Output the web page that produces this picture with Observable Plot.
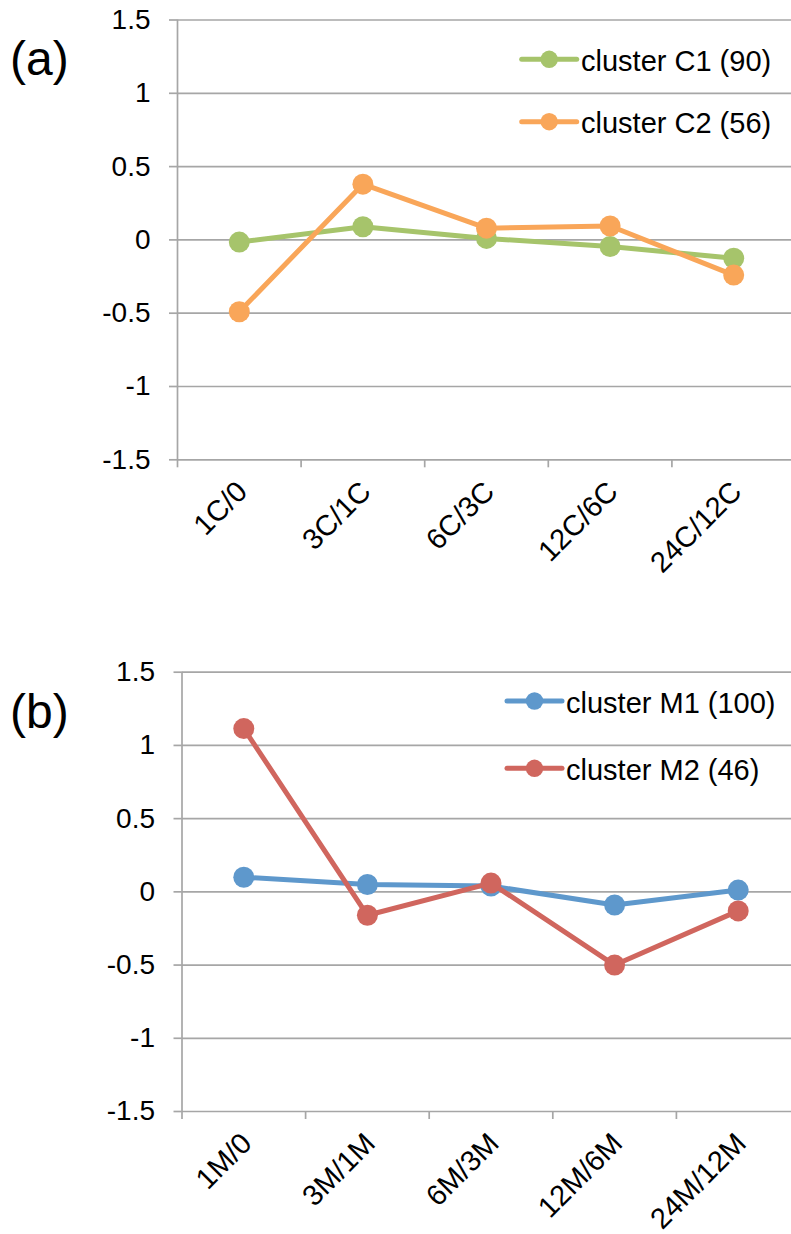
<!DOCTYPE html>
<html>
<head>
<meta charset="utf-8">
<script src="https://cdn.jsdelivr.net/npm/d3@7"></script>
<script src="https://cdn.jsdelivr.net/npm/@observablehq/plot@0.6"></script>
<style>
  body { margin: 0; background: #fff; font-family: "Liberation Sans", Arial, sans-serif; }
  .panel { position: relative; width: 791px; overflow: hidden; }
  .panel svg.plot { display: block; }
  .overlay { position: absolute; left: 0; top: 0; pointer-events: none; }
</style>
</head>
<body>
<div id="a" class="panel"></div>
<div id="b" class="panel"></div>
<script>
// ---- data ----
const catsA = ["1C/0", "3C/1C", "6C/3C", "12C/6C", "24C/12C"];
const catsB = ["1M/0", "3M/1M", "6M/3M", "12M/6M", "24M/12M"];
const c1 = [-0.015, 0.09, 0.01, -0.045, -0.125];
const c2 = [-0.49, 0.38, 0.08, 0.095, -0.24];
const m1 = [0.10, 0.05, 0.04, -0.09, 0.012];
const m2 = [1.115, -0.16, 0.06, -0.50, -0.13];
const yTicks = [-1.5, -1, -0.5, 0, 0.5, 1, 1.5];
const xBounds = [0, 1, 2, 3, 4, 5];
const namesA = ["cluster C1 (90)", "cluster C2 (56)"];
const namesB = ["cluster M1 (100)", "cluster M2 (46)"];
const colorsA = ["#A6C46B", "#F9A659"];
const colorsB = ["#5E98CC", "#D0665E"];

const GRID = "#A6A6A6";
const FONT = '"Liberation Sans", Arial, sans-serif';
const BAND = 123.6;

function drawPanel(id, cats, seriesValues, names, colors, cfg) {
  const el = document.getElementById(id);
  const marks = [
    Plot.ruleY(yTicks, {stroke: GRID, strokeWidth: 1.7}),
    Plot.ruleX([0], {y1: -1.5, y2: 1.5, stroke: GRID, strokeWidth: 1.7}),
    Plot.axisY({ticks: yTicks, tickSize: 8, tickPadding: 19, tickFormat: d => String(d), label: null,
                stroke: GRID, strokeWidth: 1.7, fontSize: 28, fill: "#000"}),
    Plot.axisX({ticks: xBounds, tickSize: 8, tickFormat: () => "", label: null, stroke: GRID, strokeWidth: 1.7}),
    Plot.text(cats, {x: (d, i) => i + 0.5, y: -1.5, text: d => d, rotate: -45, textAnchor: "end",
                     dx: 3, dy: 27, fontSize: 29, fill: "#000"})
  ];
  seriesValues.forEach((vals, s) => {
    const rows = vals.map((v, i) => ({i, cat: cats[i], v}));
    marks.push(Plot.line(rows, {x: d => d.i + 0.5, y: "v", stroke: colors[s], strokeWidth: 5}));
    marks.push(Plot.dot(rows, {x: d => d.i + 0.5, y: "v", r: 10.5, fill: colors[s]}));
  });
  const chart = Plot.plot({
    width: 791,
    height: cfg.height,
    marginLeft: cfg.left,
    marginRight: 791 - (cfg.left + 5 * BAND),
    marginTop: cfg.top,
    marginBottom: cfg.bottom,
    x: {domain: [0, 5], axis: null, label: null},
    y: {domain: [-1.5, 1.5], axis: null, label: null},
    style: {fontFamily: FONT, color: "#000", background: "#fff"},
    marks
  });
  el.appendChild(chart);

  // overlay: panel tag and legend
  const svg = d3.select(el).append("svg")
    .attr("class", "overlay").attr("width", 791).attr("height", 200)
    .style("font-family", FONT);
  svg.append("text").attr("x", 10).attr("y", cfg.tagBase).attr("font-size", 48).attr("fill", "#000").text(cfg.tag);
  names.forEach((name, s) => {
    const L = cfg.legend[s];
    const g = svg.append("g");
    g.append("line").attr("x1", L.x1).attr("x2", L.x1 + 55).attr("y1", L.y).attr("y2", L.y)
      .attr("stroke", colors[s]).attr("stroke-width", 5).attr("stroke-linecap", "round");
    g.append("circle").attr("cx", L.x1 + 27.5).attr("cy", L.y).attr("r", 8.7).attr("fill", colors[s]);
    g.append("text").attr("x", L.tx).attr("y", L.base).attr("font-size", 29).attr("fill", "#000").text(name);
  });
}

drawPanel("a", catsA, [c1, c2], namesA, colorsA, {
  height: 652, left: 177, top: 19.5, bottom: 192.7, tag: "(a)", tagBase: 75,
  legend: [{x1: 521.7, y: 59.3, tx: 581, base: 71}, {x1: 521.7, y: 121.7, tx: 581, base: 133.3}]
});
drawPanel("b", catsB, [m1, m2], namesB, colorsB, {
  height: 582, left: 181.5, top: 19.7, bottom: 123, tag: "(b)", tagBase: 76,
  legend: [{x1: 507, y: 49, tx: 566, base: 60.7}, {x1: 507, y: 116.3, tx: 566, base: 128}]
});
</script>
</body>
</html>
